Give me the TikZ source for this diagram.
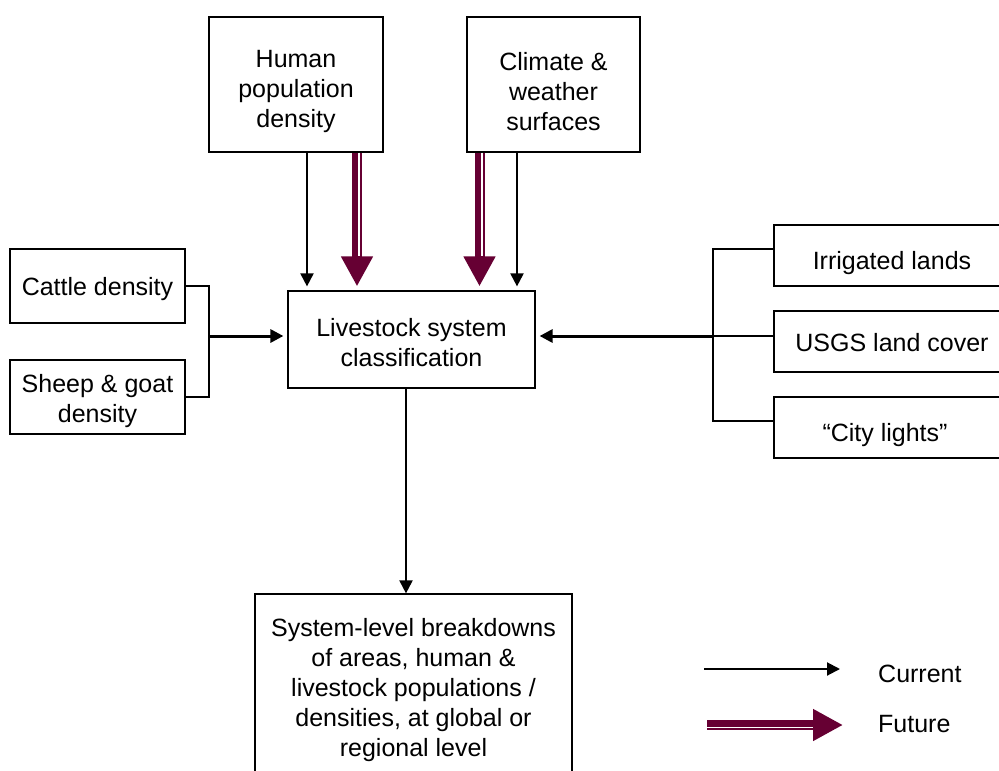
\documentclass[tikz,border=0pt]{standalone}
\usepackage{fontspec}
\setmainfont{Liberation Sans}
\usetikzlibrary{arrows.meta,calc}
\definecolor{futred}{HTML}{660033}

\tikzset{
  box/.style={draw, line width=1.2pt, inner sep=0pt},
  txt/.style={align=center, inner sep=0pt, font=\fontsize{25}{30}\selectfont},
  link/.style={line width=1.2pt},
  cur/.style={-{Triangle[length=13pt,width=13pt]}, line width=2pt},
  curbold/.style={-{Triangle[length=13pt,width=13pt]}, line width=3pt},
  future/.style={-{Triangle[length=30pt,width=30pt]}, line width=10pt, futred},
  futgap/.style={white, line width=1.5pt}
}

\begin{document}
\begin{tikzpicture}[x=1pt, y=-1pt]

  \useasboundingbox (0,0) rectangle (999,771);
  \clip (0,0) rectangle (999,771);

  % Boxes
  \node[box, minimum width=174pt, minimum height=135pt] (hum) at (296,84.5) {};
  \node[box, minimum width=173pt, minimum height=135pt] (clim) at (553.5,84.5) {};
  \node[box, minimum width=247pt, minimum height=97pt] (cls) at (411.5,339.5) {};
  \node[box, minimum width=175pt, minimum height=74pt] (cat) at (97.5,286) {};
  \node[box, minimum width=175pt, minimum height=74pt] (shp) at (97.5,397) {};
  \node[box, minimum width=236pt, minimum height=61pt] (irr) at (892,255.5) {};
  \node[box, minimum width=236pt, minimum height=61pt] (usgs) at (892,341.5) {};
  \node[box, minimum width=236pt, minimum height=61pt] (city) at (892,427.5) {};
  \node[box, minimum width=317pt, minimum height=190pt] (out) at (413.5,689) {};

  % Box texts
  \node[txt] (humt) at ($(hum.center)+(0,7)$) {Human\\population\\density};
  \node[txt] (climt) at ($(clim.center)+(0,7)$) {Climate \&\\weather\\surfaces};
  \node[txt] (clst) at ($(cls.center)+(0,3.5)$) {Livestock system\\classification};
  \node[txt] (catt) at ($(cat.center)+(0,3)$) {Cattle density};
  \node[txt] (shpt) at ($(shp.center)+(0,4)$) {Sheep \& goat\\density};
  \node[txt] (irrt) at ($(irr.center)+(0,8)$) {Irrigated lands};
  \node[txt] (usgst) at ($(usgs.center)+(0,1)$) {USGS land cover};
  \node[txt] (cityt) at ($(city.center)+(-7,8)$) {“City lights”};
  \node[txt] (outt) at ($(out.center)+(0,1.5)$)
    {System-level breakdowns\\of areas, human \&\\livestock populations /\\densities, at global or\\regional level};

  % Inputs from above
  \coordinate (hx) at (307,0);
  \coordinate (hf) at (357,0);
  \coordinate (cf) at (479.5,0);
  \coordinate (cx) at (517,0);
  \draw[cur, shorten >=4pt] (hum.south -| hx) -- (cls.north -| hx);
  \draw[cur, shorten >=4pt] (clim.south -| cx) -- (cls.north -| cx);
  \draw[future, shorten >=4pt] (hum.south -| hf) -- (cls.north -| hf);
  \draw[futgap] ($(hum.south -| hf)+(2,0)$) -- ($(cls.north -| hf)+(2,-34)$);
  \draw[future, shorten >=4pt] (clim.south -| cf) -- (cls.north -| cf);
  \draw[futgap] ($(clim.south -| cf)+(2.5,0)$) -- ($(cls.north -| cf)+(2.5,-34)$);

  % Left bracket
  \coordinate (lb) at (209,336);
  \draw[link] (cat.east) -| (lb) |- (shp.east);
  \draw[curbold, shorten >=4pt] (lb) -- (lb -| cls.west);

  % Right bracket
  \coordinate (rb1) at (713,249);
  \coordinate (rb2) at (713,336);
  \coordinate (rb3) at (713,421);
  \draw[link] (rb1 -| irr.west) -- (rb1) -- (rb3) -- (rb3 -| city.west);
  \draw[link] (rb2) -- (rb2 -| usgs.west);
  \draw[curbold, shorten >=4pt] (rb2) -- (rb2 -| cls.east);

  % Output
  \coordinate (ox) at (406,0);
  \draw[cur] (cls.south -| ox) -- (out.north -| ox);

  % Legend
  \coordinate (l1) at (704,669);
  \coordinate (l2) at (840,669);
  \coordinate (l3) at (707,725);
  \coordinate (l4) at (843,725);
  \draw[cur] (l1) -- (l2);
  \draw[future] (l3) -- (l4);
  \draw[futgap] ($(l3)+(0,2.5)$) -- ($(l4)+(-30,2.5)$);
  \node[txt, anchor=west] (lcur) at (878,674) {Current};
  \node[txt, anchor=west] (lfut) at (878,724) {Future};

\end{tikzpicture}
\end{document}
